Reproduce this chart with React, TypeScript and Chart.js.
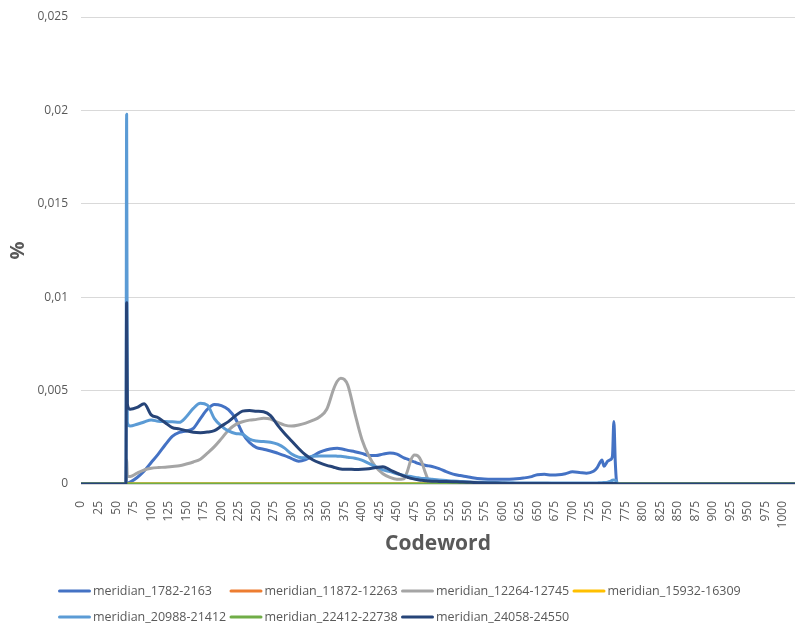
import React, { useEffect, useRef } from "react";
import { Chart, registerables } from "chart.js";

Chart.register(...registerables);

// Sampled codewords (x) shared by the measured series
const codewords = [
  0, 64, 65, 66, 70, 80, 90, 100, 110, 120,
  130, 140, 150, 160, 170, 180, 190, 200, 210, 220,
  230, 240, 250, 260, 270, 280, 290, 300, 310, 320,
  330, 340, 350, 360, 365, 370, 375, 380, 390, 400,
  410, 420, 430, 440, 450, 460, 465, 470, 475, 480,
  485, 490, 495, 500, 510, 520, 530, 540, 550, 560,
  570, 580, 590, 600, 610, 620, 630, 640, 650, 660,
  670, 680, 690, 700, 710, 720, 730, 735, 740, 742,
  745, 750, 754, 757, 759, 761, 763, 766, 770, 1017,
];

const meridian1782 = [
  0, 0, 0, 0.00003, 0.0001, 0.00035, 0.0007, 0.00115, 0.0016, 0.0021,
  0.00255, 0.00276, 0.00284, 0.00298, 0.0035, 0.004, 0.00426, 0.0042, 0.00398, 0.0035,
  0.00272, 0.00222, 0.00195, 0.00186, 0.00177, 0.00165, 0.00152, 0.00136, 0.00122, 0.0013,
  0.0015, 0.0017, 0.00183, 0.0019, 0.00191, 0.00189, 0.00185, 0.0018, 0.00173, 0.00164,
  0.00153, 0.00152, 0.0016, 0.00166, 0.0016, 0.0014, 0.00133, 0.00125, 0.00118, 0.0011,
  0.00105, 0.001, 0.00097, 0.00094, 0.00082, 0.00066, 0.00053, 0.00045, 0.00039, 0.00032,
  0.00028, 0.00026, 0.00025, 0.00025, 0.00026, 0.00028, 0.00032, 0.00038, 0.0005, 0.00052,
  0.00048, 0.00049, 0.00055, 0.00065, 0.00062, 0.00058, 0.00068, 0.00086, 0.0012, 0.00128,
  0.00095, 0.00122, 0.0013, 0.0015, 0.00334, 0.0012, 0.0001, 0, 0, 0,
];

const meridian20988 = [
  0, 0, 0.0198, 0.0033, 0.0031, 0.0032, 0.00332, 0.00343, 0.00336, 0.00334,
  0.00333, 0.0033, 0.0036, 0.00405, 0.00432, 0.00422, 0.0035, 0.0031, 0.00284, 0.0027,
  0.00266, 0.0024, 0.0023, 0.00227, 0.00224, 0.00213, 0.00192, 0.0016, 0.00143, 0.0014,
  0.00148, 0.0015, 0.0015, 0.0015, 0.00149, 0.00148, 0.00146, 0.00143, 0.00138, 0.00128,
  0.0011, 0.00093, 0.00076, 0.00066, 0.00055, 0.00046, 0.00042, 0.0004, 0.00036, 0.00033,
  0.0003, 0.00029, 0.00027, 0.00025, 0.00022, 0.00019, 0.00016, 0.00014, 0.00012, 0.0001,
  0.0001, 0.00009, 0.00008, 0.00007, 0.00007, 0.00006, 0.00006, 0.00006, 0.00006, 0.00006,
  0.00006, 0.00006, 0.00006, 0.00006, 0.00006, 0.00006, 0.00006, 0.00006, 0.00007, 0.00007,
  0.00008, 0.0001, 0.00014, 0.0002, 0.00022, 0.0002, 0.0001, 0, 0, 0,
];

const meridian12264 = [
  0, 0, 0.0013, 0.0004, 0.0004, 0.00058, 0.00075, 0.00084, 0.00088, 0.0009,
  0.00094, 0.00098, 0.00107, 0.00118, 0.00133, 0.00165, 0.002, 0.00243, 0.00288, 0.00318,
  0.00333, 0.00342, 0.00346, 0.00352, 0.00348, 0.0033, 0.00315, 0.0031, 0.00316, 0.00326,
  0.0034, 0.0036, 0.004, 0.0051, 0.0055, 0.00566, 0.0056, 0.0053, 0.0038, 0.0024,
  0.0015, 0.0009, 0.00055, 0.00035, 0.00025, 0.00028, 0.0007, 0.0013, 0.00155, 0.0015,
  0.0012, 0.00066, 0.0002, 0.0001, 0.00007, 0.00006, 0.00005, 0.00005, 0.00005, 0.00005,
  0.00004, 0.00004, 0.00004, 0.00004, 0.00004, 0.00004, 0.00004, 0.00004, 0.00004, 0.00004,
  0.00003, 0.00003, 0.00003, 0.00003, 0.00003, 0.00003, 0.00003, 0.00003, 0.00003, 0.00003,
  0.00003, 0.00003, 0.00003, 0.00003, 0.00003, 0.00003, 0.00002, 0, 0, 0,
];

const meridian24058 = [
  0, 0, 0.0097, 0.0043, 0.004, 0.0041, 0.0043, 0.0037, 0.00355, 0.00328,
  0.00302, 0.00295, 0.00285, 0.00277, 0.00275, 0.00278, 0.00286, 0.0031, 0.00334, 0.00365,
  0.0039, 0.00393, 0.0039, 0.00387, 0.00366, 0.00315, 0.0027, 0.0023, 0.0019, 0.00155,
  0.0013, 0.00113, 0.001, 0.0009, 0.00084, 0.0008, 0.00079, 0.00079, 0.00078, 0.00079,
  0.00082, 0.00088, 0.00093, 0.00076, 0.00058, 0.00042, 0.00036, 0.0003, 0.00026, 0.00023,
  0.0002, 0.00018, 0.00016, 0.00015, 0.00014, 0.00013, 0.00012, 0.00011, 0.0001, 0.00008,
  0.00007, 0.00006, 0.00005, 0.00004, 0.00003, 0.00003, 0.00003, 0.00003, 0.00003, 0.00003,
  0.00003, 0.00003, 0.00003, 0.00003, 0.00003, 0.00003, 0.00003, 0.00003, 0.00003, 0.00003,
  0.00003, 0.00003, 0.00003, 0.00003, 0.00003, 0.00003, 0.00002, 0, 0, 0,
];

// Series that stay at zero over the whole range
const flatCodewords = [0, 1017];
const meridian11872 = [0, 0];
const meridian15932 = [0, 0];
const meridian22412 = [0, 0];

const yTicks = [0, 0.005, 0.01, 0.015, 0.02, 0.025];
const xMax = 1017;

const TEXT = "#595959";
const FONT = "'Open Sans', 'DejaVu Sans', sans-serif";

const pts = (xs: number[], ys: number[]) => xs.map((x, i) => ({ x, y: ys[i] }));

const legendPlugin = {
  id: "excelLegend",
  afterDraw(chart: any) {
    const ctx = chart.ctx as CanvasRenderingContext2D;
    ctx.save();
    ctx.font = `12.5px ${FONT}`;
    ctx.textBaseline = "middle";
    ctx.textAlign = "left";
    chart.data.datasets.forEach((ds: any, i: number) => {
      const col = i % 4;
      const row = Math.floor(i / 4);
      const x = 58 + col * 171.5;
      const y = 591 + row * 26;
      ctx.strokeStyle = ds.borderColor;
      ctx.lineWidth = 3;
      ctx.lineCap = "round";
      ctx.beginPath();
      ctx.moveTo(x + 1.5, y);
      ctx.lineTo(x + 31.5, y);
      ctx.stroke();
      ctx.fillStyle = TEXT;
      ctx.fillText(ds.label, x + 35, y + 0.5);
    });
    ctx.restore();
  },
};

export default function App() {
  const ref = useRef<HTMLCanvasElement | null>(null);

  useEffect(() => {
    if (!ref.current) return;
    const mk = (label: string, color: string, xs: number[], ys: number[], idx: number) => ({
      label,
      data: pts(xs, ys),
      borderColor: color,
      backgroundColor: color,
      borderWidth: 3,
      pointRadius: 0,
      fill: false,
      cubicInterpolationMode: "monotone" as const,
      borderCapStyle: "round" as const,
      borderJoinStyle: "round" as const,
      order: 6 - idx,
    });
    const chart = new Chart(ref.current, {
      type: "line",
      data: {
        datasets: [
          mk("meridian_1782-2163", "#4472C4", codewords, meridian1782, 0),
          mk("meridian_11872-12263", "#ED7D31", flatCodewords, meridian11872, 1),
          mk("meridian_12264-12745", "#A5A5A5", codewords, meridian12264, 2),
          mk("meridian_15932-16309", "#FFC000", flatCodewords, meridian15932, 3),
          mk("meridian_20988-21412", "#5B9BD5", codewords, meridian20988, 4),
          mk("meridian_22412-22738", "#70AD47", flatCodewords, meridian22412, 5),
          mk("meridian_24058-24550", "#264478", codewords, meridian24058, 6),
        ],
      },
      options: {
        responsive: false,
        animation: false,
        layout: { padding: { top: 17, right: 0, bottom: 68, left: 0 } },
        plugins: { legend: { display: false }, tooltip: { enabled: false } },
        scales: {
          x: {
            type: "linear",
            min: 0,
            max: xMax,
            grid: { display: false },
            border: { display: false },
            ticks: {
              stepSize: 25,
              includeBounds: false,
              autoSkip: false,
              minRotation: 90,
              maxRotation: 90,
              padding: 9,
              color: TEXT,
              font: { family: FONT, size: 12 },
              callback: (v: any) => String(v),
            },
            title: {
              display: true,
              text: "Codeword",
              color: TEXT,
              font: { family: FONT, size: 21, weight: "bold" },
              padding: { top: 0, bottom: 0 },
            },
            afterFit: (s: any) => {
              s.height = 73;
              s.paddingLeft = 0;
              s.paddingRight = 0;
            },
          },
          y: {
            type: "linear",
            min: 0,
            max: 0.025,
            afterBuildTicks: (s: any) => {
              s.ticks = yTicks.map((v) => ({ value: v }));
            },
            grid: { color: "#D9D9D9", drawTicks: false, lineWidth: 1 },
            border: { display: false },
            ticks: {
              padding: 13,
              color: TEXT,
              font: { family: FONT, size: 12 },
              callback: (v: any) => (v === 0 ? "0" : String(Number(Number(v).toFixed(4))).replace(".", ",")),
            },
            title: {
              display: true,
              text: "%",
              color: TEXT,
              font: { family: FONT, size: 20, weight: "bold" },
              padding: { top: 6, bottom: 0 },
            },
            afterFit: (s: any) => {
              s.width = 81;
              s.paddingTop = 0;
              s.paddingBottom = 0;
            },
          },
        },
      },
      plugins: [legendPlugin],
    });
    return () => chart.destroy();
  }, []);

  return (
    <div style={{ position: "absolute", left: 0, top: 0, width: 795, height: 625, background: "#fff" }}>
      <canvas ref={ref} width={795} height={625} style={{ display: "block" }} />
    </div>
  );
}
